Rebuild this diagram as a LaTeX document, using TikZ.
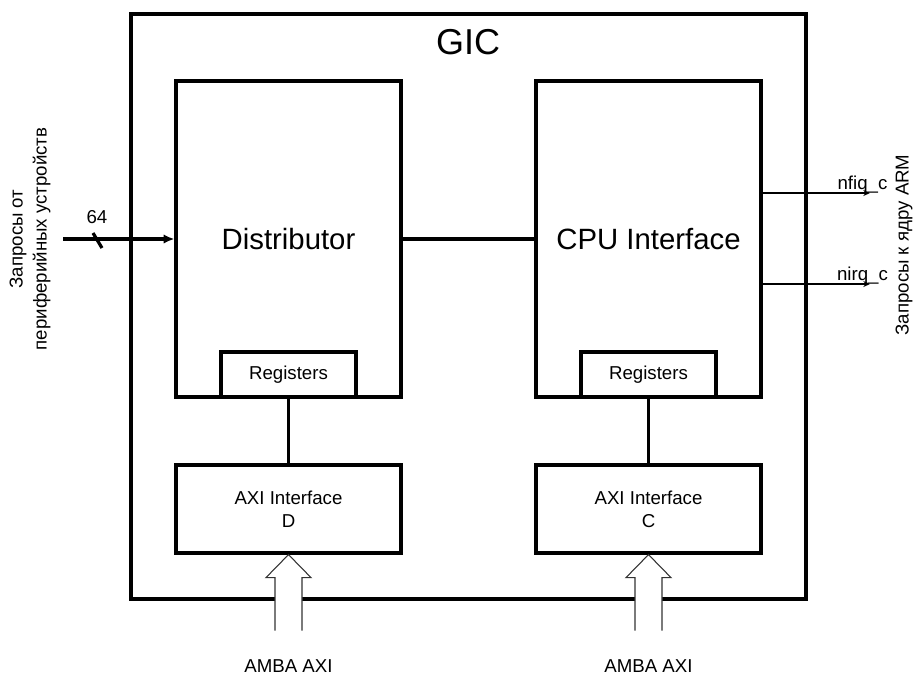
\documentclass[tikz,border=0pt]{standalone}
\usepackage{fontspec}
\setmainfont{Liberation Sans}
\usetikzlibrary{arrows.meta}

\tikzset{
  block/.style={draw, line width=2.4pt, fill=white, minimum width=168.75pt, inner sep=0pt},
  regbox/.style={draw, line width=2.4pt, fill=white, minimum width=101.25pt, minimum height=33.75pt, inner sep=0pt, txt},
  txt/.style={font=\fontsize{14}{17}\selectfont},
  bigtxt/.style={font=\fontsize{22}{26}\selectfont},
  link/.style={line width=2.4pt},
  sig/.style={line width=1pt, -{Stealth[length=5pt,width=4.5pt]}},
  amba/.style={line width=0.8pt, draw=black!80, fill=white},
}

\begin{document}
\begin{tikzpicture}[x=0.75pt,y=-0.75pt]
\useasboundingbox (0,0) rectangle (915,675);
% GIC frame
\node[draw, line width=2.4pt, minimum width=506.25pt, minimum height=438.75pt] (gic) at (468.5,306.5) {};
\node[font=\fontsize{27}{32}\selectfont] (gictxt) at (468,42) {GIC};
% blocks
\node[block, minimum height=237pt, bigtxt] (dist) at (288.5,239) {Distributor};
\node[block, minimum height=237pt, bigtxt] (cpu) at (648.5,239) {CPU Interface};
\node[regbox] (regD) at (288.5,374.5) {Registers};
\node[regbox] (regC) at (648.5,374.5) {Registers};
\node[block, minimum height=66pt, txt, align=center] (axiD) at (288.5,509) {AXI Interface\\D};
\node[block, minimum height=66pt, txt, align=center] (axiC) at (648.5,509) {AXI Interface\\C};
\draw[link] (dist) -- (cpu);
\draw[link] (regD) -- (axiD);
\draw[link] (regC) -- (axiC);
% inputs
\coordinate (inp) at (63,239);
\draw[link, -{Latex[length=8pt,width=7pt]}] (inp) -- (dist.west);
\draw[link] (93,233) -- (102,248);
\node[txt] (nbits) at (97,217) {64};
\node[rotate=90, align=center, font=\fontsize{14}{18}\selectfont] (srcTxt) at (30,239) {Запросы от\\периферийных устройств};
% outputs
\coordinate (fiq) at (870,193);
\coordinate (irq) at (870,284);
\draw[sig] (cpu.east |- fiq) -- (fiq);
\draw[sig] (cpu.east |- irq) -- (irq);
\node[txt, anchor=base] (fiqTxt) at (862.5,189) {nfiq\_c};
\node[txt, anchor=base] (irqTxt) at (862.5,280) {nirq\_c};
\node[txt, rotate=90] (armTxt) at (904,245) {Запросы к ядру ARM};
% AMBA buses
\filldraw[amba] (axiD.south) ++(-13.5,76) -- ++(0,-53) -- ++(-9,0) -- (axiD.south) -- ++(22.5,23) -- ++(-9,0) -- ++(0,53);
\filldraw[amba] (axiC.south) ++(-13.5,76) -- ++(0,-53) -- ++(-9,0) -- (axiC.south) -- ++(22.5,23) -- ++(-9,0) -- ++(0,53);
\node[txt, anchor=base] (ambaD) at (288.5,672) {AMBA AXI};
\node[txt, anchor=base] (ambaC) at (648.5,672) {AMBA AXI};
\end{tikzpicture}
\end{document}
